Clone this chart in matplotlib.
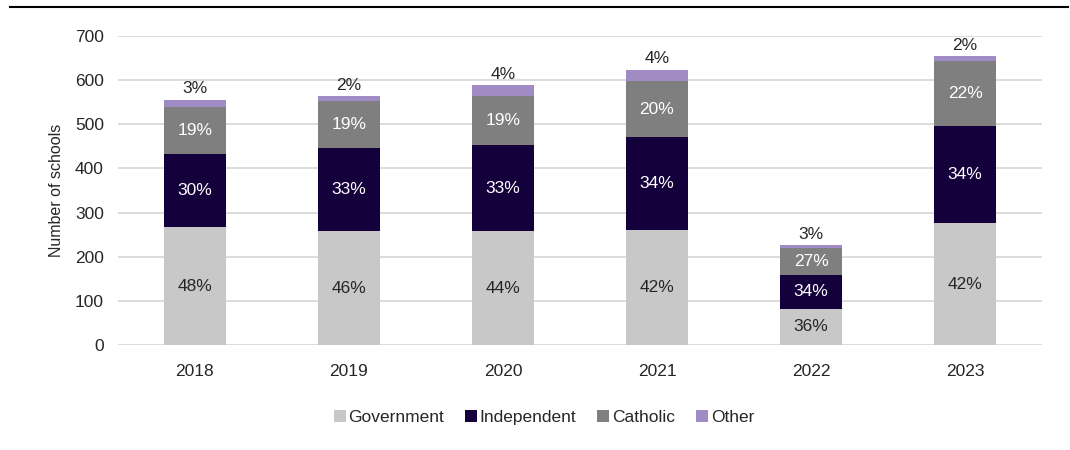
import matplotlib
matplotlib.use("Agg")
import matplotlib.pyplot as plt
import numpy as np

years = ["2018", "2019", "2020", "2021", "2022", "2023"]
government = [267, 258, 258, 261, 82, 276]
independent = [165, 188, 194, 210, 77, 221]
catholic = [107, 106, 113, 127, 61, 147]
other = [17, 12, 23, 25, 6, 10]

series_names = ["Government", "Independent", "Catholic", "Other"]
series_colors = ["#C8C8C8", "#14003A", "#7F7F7F", "#A08BC4"]
label_colors = ["#262626", "white", "white", "#262626"]

plt.rcParams["font.family"] = ["Liberation Sans", "DejaVu Sans"]

fig = plt.figure(figsize=(10.7, 4.5), dpi=100)
ax = fig.add_axes([0.110, 0.2333, 0.864, 0.6867])

series = [np.array(government), np.array(independent),
          np.array(catholic), np.array(other)]
totals = sum(series)
x = np.arange(len(years))
width = 0.4

bottom = np.zeros(len(years))
for idx, (name, vals, col) in enumerate(zip(series_names, series, series_colors)):
    ax.bar(x, vals, width, bottom=bottom, color=col, label=name, zorder=2)
    for xi, v, b, t in zip(x, vals, bottom, totals):
        pct = f"{round(100 * v / t):.0f}%"
        if name == "Other":
            ax.text(xi, b + v + 8, pct, ha="center", va="bottom",
                    fontsize=12.5, color=label_colors[idx])
        else:
            ax.text(xi, b + v / 2, pct, ha="center", va="center",
                    fontsize=12.5, color=label_colors[idx])
    bottom = bottom + vals

ax.set_xlim(-0.5, len(years) - 0.5)
ax.set_ylim(0, 700)
ax.set_yticks(np.arange(0, 701, 100))
ax.set_xticks(x)
ax.set_xticklabels(years)
ax.yaxis.grid(True, color="#D9D9D9", linewidth=1.3, zorder=0)
ax.set_axisbelow(True)
for s in ax.spines.values():
    s.set_visible(False)
ax.tick_params(axis="both", length=0, labelsize=12.5, colors="#262626")
ax.tick_params(axis="x", pad=14)
ax.tick_params(axis="y", pad=10)
ax.set_ylabel("Number of schools", fontsize=11.5, color="#262626", labelpad=8)

ax.legend(loc="upper center", bbox_to_anchor=(0.461, -0.16), ncol=4, frameon=False,
          fontsize=12.5, handlelength=0.7, handleheight=0.7, handletextpad=0.15,
          columnspacing=1.2, labelcolor="#262626")

fig.add_artist(plt.Line2D([10 / 1070, 1068 / 1070], [1 - 7 / 450, 1 - 7 / 450],
                          color="black", linewidth=1.5, transform=fig.transFigure))

fig.savefig("out.png", dpi=100, facecolor="white")
